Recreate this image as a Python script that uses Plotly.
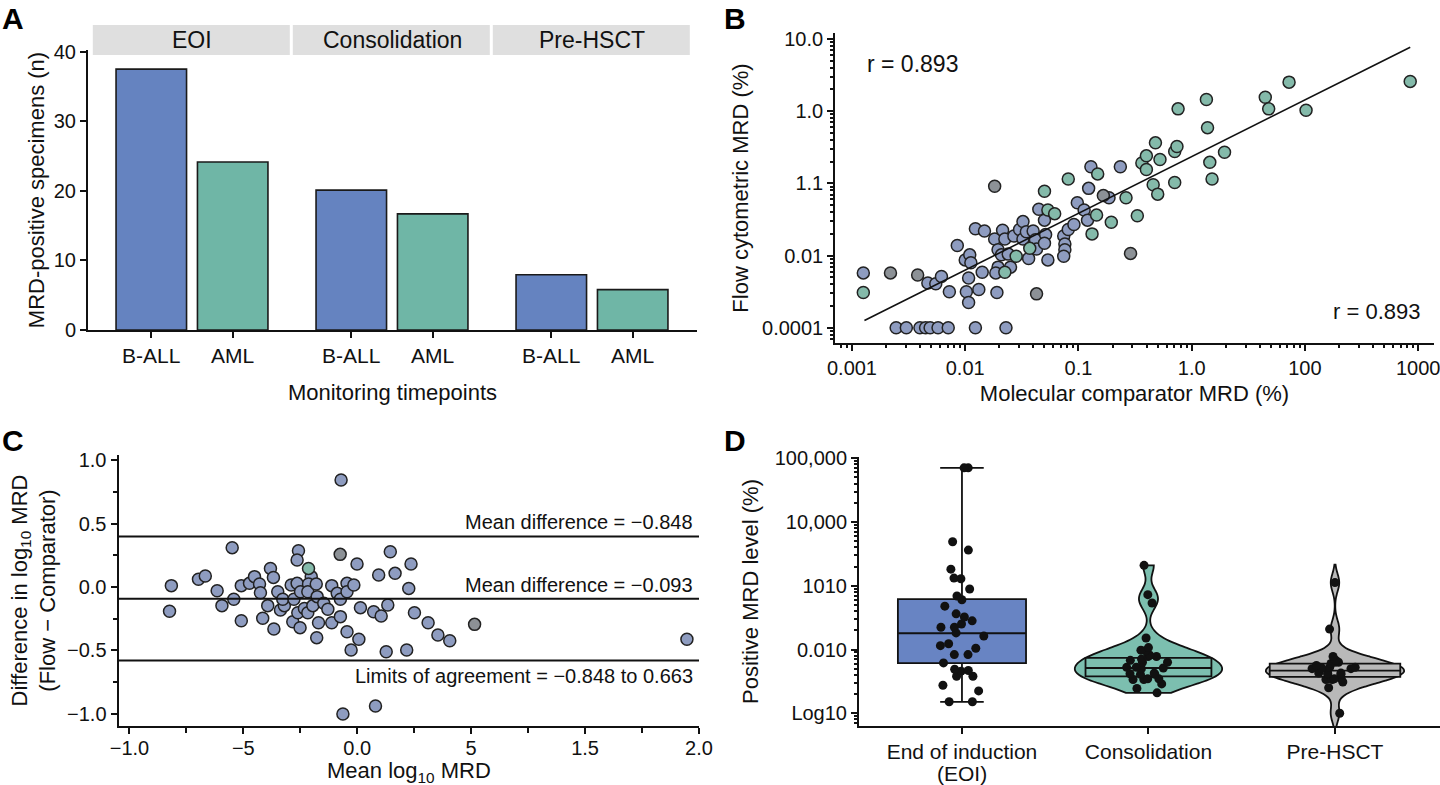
import numpy as np
import plotly.graph_objects as go

W, H = 1440, 785
FONT = "Liberation Sans, Arial, sans-serif"
INK = "#111111"

# ---------------- Panel A data ----------------
timepoints = ["EOI", "Consolidation", "Pre-HSCT"]
ball_counts = [37.5, 20.1, 7.95]
aml_counts = [24.15, 16.7, 5.8]
bar_labels = ["B-ALL", "AML"]

# ---------------- Panel B data (log10 of %) ----------------
b_ball_log_comp = [-2.90, -2.33, -2.26, -2.21, -2.14, -2.07, -2.00, -1.96, -1.95, -1.97, -1.99, -1.97,
                   -1.88, -1.85, -1.91, -1.83, -1.74, -1.71, -1.71, -1.73, -1.72, -1.67, -1.65, -1.68,
                   -1.60, -1.62, -1.57, -1.52, -1.49, -1.49, -1.46, -1.44, -1.40, -1.38, -1.37, -1.35,
                   -1.30, -1.29, -1.30, -1.27, -1.13, -1.12, -1.12, -1.13, -1.09, -1.04, -1.01, -0.95,
                   -0.91, -0.92, -0.89, -0.63, -0.73,
                   -2.61, -2.52, -2.40, -2.35, -2.31, -2.24, -2.15, -1.91, -1.64]
b_ball_log_flow = [-2.24, -2.38, -2.39, -2.29, -2.50, -1.86, -2.06, -1.99, -2.10, -2.31, -2.50, -2.65,
                   -2.47, -2.23, -1.63, -1.66, -1.77, -1.92, -2.16, -2.24, -2.51, -1.65, -1.77, -1.99,
                   -2.16, -1.98, -1.73, -1.64, -1.53, -1.77, -1.67, -2.04, -1.66, -1.78, -1.91, -1.36,
                   -1.51, -1.71, -1.83, -2.06, -1.73, -1.84, -1.92, -2.01, -1.64, -1.57, -1.27, -1.37,
                   -1.07, -1.51, -0.77, -0.77, -1.20,
                   -3.0, -3.0, -3.0, -3.0, -3.0, -3.0, -3.0, -3.0, -3.0]
b_aml_log_comp = [-2.90, -1.65, -1.55, -1.43, -1.30, -1.27, -1.21, -1.09, -0.88, -0.83, -0.84, -0.71,
                  -0.58, -0.48, -0.44, -0.40, -0.40, -0.32, -0.28, -0.34, -0.30, -0.15, -0.15, -0.13,
                  -0.12, 0.13, 0.14, 0.16, 0.18, 0.29, 0.65, 0.68, 0.86, 1.01, 1.93]
b_aml_log_flow = [-2.51, -2.23, -2.01, -1.90, -1.11, -1.37, -1.42, -0.94, -1.70, -0.87, -1.44, -1.54,
                  -1.20, -1.45, -0.72, -0.62, -0.81, -0.44, -0.67, -1.02, -1.15, -0.99, -0.56, -0.49,
                  0.03, 0.16, -0.23, -0.71, -0.94, -0.57, 0.19, 0.03, 0.40, 0.01, 0.41]
b_other_log_comp = [-2.66, -2.42, -1.74, -1.37, -0.78, -0.54]
b_other_log_flow = [-2.24, -2.27, -1.04, -2.53, -1.17, -1.97]
b_fit_slope = 0.785
b_fit_intercept = -0.631
b_fit_log_span = [-2.89, 1.93]
b_r_text = "r = 0.893"
b_xtick_text = ["0.001", "0.01", "0.1", "1.0", "100", "1000"]
b_ytick_text = ["10.0", "1.0", "1.1", "0.01", "0.0001"]

# ---------------- Panel C data ----------------
c_mean = [-0.071, -0.549, -0.258, -0.264, -0.001, 0.145, 0.236, -0.816, -0.824, -0.697, -0.667,
          -0.615, -0.594, -0.542, -0.509, -0.509, -0.473, -0.451, -0.429, -0.425, -0.415, -0.381,
          -0.368, -0.393, -0.366, -0.349, -0.337, -0.320, -0.327, -0.290, -0.264, -0.278, -0.283,
          -0.251, -0.261, -0.249, -0.232, -0.217, -0.202, -0.214, -0.217, -0.195, -0.180, -0.176,
          -0.178, -0.170, -0.147, -0.129, -0.112, -0.112, -0.088, -0.074, -0.074, -0.045, -0.045,
          -0.015, 0.014, -0.045, 0.007, -0.027, 0.072, 0.105, 0.134, 0.094, 0.166, 0.226, 0.251,
          0.127, 0.217, -0.063, 0.080, 0.311, 0.354, 0.406, 1.447]
c_diff = [0.845, 0.311, 0.287, 0.213, 0.182, 0.279, 0.182, 0.011, -0.192, 0.061, 0.087,
          -0.029, -0.147, -0.097, 0.011, -0.266, 0.029, 0.082, 0.024, -0.045, -0.247, 0.147,
          0.076, -0.147, -0.332, -0.037, -0.182, -0.147, -0.097, 0.016, 0.029, -0.097, -0.274,
          -0.321, -0.203, -0.037, -0.169, -0.203, 0.082, 0.024, -0.037, -0.147, 0.024, -0.076,
          -0.400, -0.282, -0.129, -0.176, 0.011, -0.282, -0.050, -0.097, -0.234, 0.029, -0.037,
          0.016, -0.163, -0.353, -0.413, -0.498, -0.195, -0.229, -0.142, 0.095, 0.108, -0.011, -0.203,
          -0.511, -0.498, -1.003, -0.940, -0.282, -0.379, -0.424, -0.413]
c_other_mean = [-0.075, 0.515]
c_other_diff = [0.258, -0.295]
c_aml_mean = [-0.214]
c_aml_diff = [0.147]
c_line_values = [0.40, -0.093, -0.58]
c_line_labels = ["Mean difference = \u22120.848", "Mean difference = \u22120.093",
                 "Limits of agreement = \u22120.848 to 0.663"]
c_xtick_text = ["\u22121.0", "\u22125", "0.0", "5", "1.5", "2.0"]
c_ytick_text = ["\u22121.0", "\u22120.5", "0.0", "0.5", "1.0"]
c_xtitle = "Mean log<sub>10</sub> MRD"

# ---------------- Panel D data (decade index) ----------------
d_categories = ["End of induction", "Consolidation", "Pre-HSCT"]
d_first_sub = "(EOI)"
d_ytick_text = ["Log10", "0.010", "1010", "10,000", "100,000"]
eoi_vals = [3.85, 3.85, 2.69, 2.56, 2.26, 2.12, 2.11, 1.95, 1.84, 1.78, 1.68, 1.56, 1.51, 1.45,
            1.40, 1.35, 1.35, 1.26, 1.21, 1.06, 1.09, 1.02, 0.92, 0.92, 0.79, 0.66, 0.69, 0.67,
            0.58, 0.58, 0.44, 0.35, 0.18, 0.18]
eoi_box = dict(q1=0.786, median=1.255, q3=1.79, lowerfence=0.177, upperfence=3.85)
cons_vals = [2.32, 1.86, 1.73, 1.18, 1.03, 0.99, 0.98, 0.91, 0.89, 0.89, 0.85, 0.83, 0.80, 0.80,
             0.72, 0.72, 0.71, 0.70, 0.63, 0.62, 0.61, 0.61, 0.54, 0.54, 0.53, 0.53, 0.46, 0.39, 0.32]
cons_box = dict(q1=0.58, median=0.71, q3=0.87)
pre_vals = [2.05, 1.32, 0.89, 0.83, 0.80, 0.80, 0.78, 0.75, 0.72, 0.70, 0.71, 0.72, 0.70, 0.63,
            0.62, 0.63, 0.61, 0.63, 0.54, 0.53, 0.54, 0.53, 0.49, 0.40, 0.0]
pre_box = dict(q1=0.57, median=0.67, q3=0.78)

# ---------------- colours ----------------
BAR_BLUE = "#6583C0"
BAR_TEAL = "#6FB6A6"
PT_BLUE = "#8E9CC0"
PT_TEAL = "#84BAAA"
PT_GRAY = "#8C9196"
D_BLUE = "#6884C3"
D_TEAL = "#7CBFAF"
D_GRAY = "#B9B9B9"


def xd(a, b):
    return [a / W, b / W]


def yd(top, bot):
    return [1 - bot / H, 1 - top / H]


fig = go.Figure()

# ---- Panel A ----
off, bw = 0.2035, 0.3525
xa = list(range(len(timepoints)))
fig.add_trace(go.Bar(x=[i - off for i in xa], y=ball_counts, width=bw, marker=dict(color=BAR_BLUE, line=dict(color="#1a1a1a", width=1.6)), xaxis="x", yaxis="y"))
fig.add_trace(go.Bar(x=[i + off for i in xa], y=aml_counts, width=bw, marker=dict(color=BAR_TEAL, line=dict(color="#1a1a1a", width=1.6)), xaxis="x", yaxis="y"))
a_tickvals = []
for i in xa:
    a_tickvals += [i - off, i + off]

# ---- Panel B ----
def scat(xl, yl, color, xa_, ya_, size=12):
    return go.Scatter(x=10 ** np.array(xl), y=10 ** np.array(yl), mode="markers",
                      marker=dict(color=color, size=size, line=dict(color="#222", width=1.5)),
                      xaxis=xa_, yaxis=ya_)

fig.add_trace(scat(b_ball_log_comp, b_ball_log_flow, PT_BLUE, "x2", "y2"))
fig.add_trace(scat(b_aml_log_comp, b_aml_log_flow, PT_TEAL, "x2", "y2"))
fig.add_trace(scat(b_other_log_comp, b_other_log_flow, PT_GRAY, "x2", "y2"))
fit_x = np.array(b_fit_log_span)
fig.add_trace(go.Scatter(x=10 ** fit_x, y=10 ** (b_fit_intercept + b_fit_slope * fit_x), mode="lines",
                         line=dict(color=INK, width=1.6), xaxis="x2", yaxis="y2"))

# ---- Panel C ----
def cscat(xl, yl, color):
    return go.Scatter(x=xl, y=yl, mode="markers",
                      marker=dict(color=color, size=12, line=dict(color="#222", width=1.5)),
                      xaxis="x3", yaxis="y3")

fig.add_trace(cscat(c_mean, c_diff, PT_BLUE))
fig.add_trace(cscat(c_other_mean, c_other_diff, PT_GRAY))
fig.add_trace(cscat(c_aml_mean, c_aml_diff, PT_TEAL))

# ---- Panel D ----
fig.add_trace(go.Violin(x0=1, y=cons_vals, width=0.79, scalemode="width", spanmode="hard", bandwidth=0.14,
                        fillcolor=D_TEAL, opacity=1, line=dict(color=INK, width=1.8), points=False,
                        box_visible=False, meanline_visible=False, xaxis="x4", yaxis="y4"))
fig.add_trace(go.Violin(x0=2, y=pre_vals, width=0.74, scalemode="width", spanmode="soft", bandwidth=0.14,
                        fillcolor=D_GRAY, opacity=1, line=dict(color=INK, width=1.8), points=False,
                        box_visible=False, meanline_visible=False, xaxis="x4", yaxis="y4"))
fig.add_trace(go.Box(x=[0], q1=[eoi_box["q1"]], median=[eoi_box["median"]], q3=[eoi_box["q3"]],
                     lowerfence=[eoi_box["lowerfence"]], upperfence=[eoi_box["upperfence"]],
                     width=0.687, whiskerwidth=0.34, fillcolor=D_BLUE, line=dict(color=INK, width=1.8),
                     boxpoints=False, xaxis="x4", yaxis="y4"))
fig.add_trace(go.Box(x=[1], q1=[cons_box["q1"]], median=[cons_box["median"]], q3=[cons_box["q3"]],
                     lowerfence=[cons_box["q1"]], upperfence=[cons_box["q3"]],
                     width=0.675, whiskerwidth=0, fillcolor=D_TEAL, line=dict(color=INK, width=1.8),
                     boxpoints=False, xaxis="x4", yaxis="y4"))
fig.add_trace(go.Box(x=[2], q1=[pre_box["q1"]], median=[pre_box["median"]], q3=[pre_box["q3"]],
                     lowerfence=[pre_box["q1"]], upperfence=[pre_box["q3"]],
                     width=0.70, whiskerwidth=0, fillcolor=D_GRAY, line=dict(color=INK, width=1.8),
                     boxpoints=False, xaxis="x4", yaxis="y4"))
for pos, vals in zip([0, 1, 2], [eoi_vals, cons_vals, pre_vals]):
    fig.add_trace(go.Box(x0=pos, y=vals, boxpoints="all", jitter=0.9, pointpos=0, width=0.3,
                         fillcolor="rgba(0,0,0,0)", line=dict(color="rgba(0,0,0,0)", width=0),
                         marker=dict(color=INK, size=9), xaxis="x4", yaxis="y4"))

# ---------------- axes ----------------
tickfont = dict(family=FONT, size=20, color=INK)
titlefont = dict(family=FONT, size=22, color=INK)
base = dict(showline=True, linecolor=INK, linewidth=2, ticks="outside", ticklen=6, tickwidth=1.6,
            tickcolor=INK, showgrid=False, zeroline=False, tickfont=tickfont, automargin=False,
            ticklabeloverflow="allow")

b_minor = [k * 10.0 ** n for n in range(-4, 3) for k in range(2, 10)]
d_minor = [d + np.log10(k) for d in range(-1, 5) for k in range(2, 10)]

fig.update_layout(
    width=W, height=H, margin=dict(l=0, r=0, t=0, b=0, autoexpand=False), paper_bgcolor="white",
    plot_bgcolor="white",
    showlegend=False, font=dict(family=FONT, color=INK), barmode="overlay", boxmode="overlay",
    violinmode="overlay",
    xaxis=dict(base, domain=xd(88, 697), range=[-0.52, 2.525], tickvals=a_tickvals,
               ticktext=bar_labels * len(timepoints), tickfont=dict(family=FONT, size=21, color=INK),
               title=dict(text="Monitoring timepoints", font=titlefont, standoff=18)),
    yaxis=dict(base, domain=yd(50, 330), range=[0, 40.25], tickvals=[0, 10, 20, 30, 40],
               title=dict(text="MRD-positive specimens (n)", font=titlefont, standoff=3)),
    xaxis2=dict(base, type="log", domain=xd(835, 1434), range=[-3.15, 2.14], linewidth=1.6,
                tickvals=[10.0 ** n for n in range(-3, 3)], ticktext=b_xtick_text,
                minor=dict(tickmode="array", tickvals=b_minor, ticks="outside", ticklen=3, tickcolor=INK),
                title=dict(text="Molecular comparator MRD (%)", font=titlefont, standoff=8), anchor="y2"),
    yaxis2=dict(base, type="log", domain=yd(33, 343), range=[-3.21, 1.08], linewidth=1.6,
                tickvals=[10.0 ** n for n in range(1, -4, -1)], ticktext=b_ytick_text,
                minor=dict(tickmode="array", tickvals=b_minor, ticks="outside", ticklen=3, tickcolor=INK),
                title=dict(text="Flow cytometric MRD (%)", font=titlefont, standoff=7), anchor="x2"),
    xaxis3=dict(base, domain=xd(118.5, 699), range=[-1.048, 1.5], tickvals=[-1, -0.5, 0, 0.5, 1.0, 1.5],
                ticktext=c_xtick_text, ticklabelstandoff=-3,
                minor=dict(tick0=-1, dtick=0.25, ticks="outside", ticklen=5, tickcolor=INK), anchor="y3"),
    yaxis3=dict(base, domain=yd(455, 726), range=[-1.098, 1.043], tickvals=[-1, -0.5, 0, 0.5, 1.0],
                ticktext=c_ytick_text, minor=dict(tick0=-1, dtick=0.25, ticks="outside", ticklen=4, tickcolor=INK),
                title=dict(text="Difference in log<sub>10</sub> MRD<br>(Flow \u2212 Comparator)", font=titlefont, standoff=5),
                anchor="x3"),
    xaxis4=dict(base, domain=xd(859, 1440), range=[-0.552, 2.563], tickvals=[0, 1, 2], ticktext=d_categories,
                tickfont=dict(family=FONT, size=21, color=INK), anchor="y4"),
    yaxis4=dict(base, domain=yd(457, 726), range=[-0.2, 4.02], tickvals=[0, 1, 2, 3, 4], ticktext=d_ytick_text,
                minor=dict(tickmode="array", tickvals=d_minor, ticks="outside", ticklen=3, tickcolor=INK),
                title=dict(text="Positive MRD level (%)", font=titlefont, standoff=10), anchor="x4"),
)

shapes = []
annotations = []
# strips for panel A
for i, name in enumerate(timepoints):
    x0 = max(i - 0.496, -0.513)
    x1 = i + 0.489
    shapes.append(dict(type="rect", xref="x", yref="paper", x0=x0, x1=x1, y0=1 - 55 / H, y1=1 - 25 / H,
                       fillcolor="#DFDFDF", line=dict(width=0), layer="below"))
    annotations.append(dict(x=i, y=1 - 40 / H, xref="x", yref="paper", text=name, showarrow=False,
                            font=dict(family=FONT, size=23, color=INK), xanchor="center", yanchor="middle"))

# panel C reference lines
for k, (v, lab) in enumerate(zip(c_line_values, c_line_labels)):
    shapes.append(dict(type="line", xref="x3 domain", yref="y3", x0=0, x1=1, y0=v, y1=v,
                       line=dict(color=INK, width=2)))
    below = k == len(c_line_values) - 1
    annotations.append(dict(x=1.5, y=v, xref="x3", yref="y3", text=lab, showarrow=False,
                            xanchor="right", yanchor="top" if below else "bottom",
                            xshift=-4, yshift=-3 if below else 1,
                            font=dict(family=FONT, size=20, color=INK)))

# panel C x-axis title
annotations.append(dict(x=0.5, y=1 - 772 / H, xref="x3 domain", yref="paper", text=c_xtitle, showarrow=False,
                        xanchor="center", yanchor="middle", font=titlefont))

# second line of the first category label in panel D
annotations.append(dict(x=0, y=1 - 773 / H, xref="x4", yref="paper", text=d_first_sub, showarrow=False,
                        xanchor="center", yanchor="middle", font=dict(family=FONT, size=21, color=INK)))

# panel B r labels
annotations.append(dict(x=0.05, y=0.95, xref="x2 domain", yref="y2 domain", text=b_r_text, showarrow=False,
                        xanchor="left", yanchor="top", font=dict(family=FONT, size=23, color=INK)))
annotations.append(dict(x=0.98, y=0.055, xref="x2 domain", yref="y2 domain", text=b_r_text, showarrow=False,
                        xanchor="right", yanchor="bottom", font=dict(family=FONT, size=22, color=INK)))

# panel letters
for letter, px, py in [("A", 0, 0), ("B", 722, 0), ("C", 0, 422), ("D", 722, 422)]:
    annotations.append(dict(x=px / W, y=1 - py / H, xref="paper", yref="paper", text="<b>%s</b>" % letter,
                            showarrow=False, xanchor="left", yanchor="top",
                            font=dict(family=FONT, size=30, color="#000")))

fig.update_layout(shapes=shapes, annotations=annotations)
fig.write_html("out.html", config={"displayModeBar": False},
               post_script="document.body.style.margin='0px';document.body.style.padding='0px';")
